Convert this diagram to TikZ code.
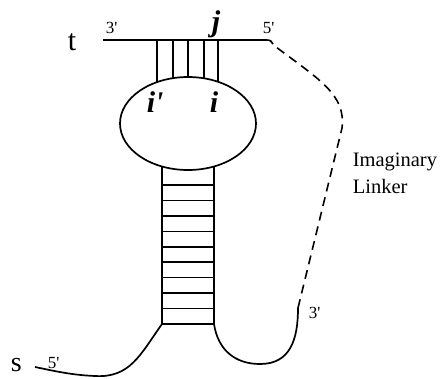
\documentclass[tikz,border=0pt]{standalone}
\usepackage{fontspec}
\setmainfont{Liberation Serif}
\usetikzlibrary{shapes.geometric}
\begin{document}
\begin{tikzpicture}[x=1pt,y=-1pt,line width=1.6pt,
  strand/.style={line width=1.7pt},
  bond/.style={line width=1.5pt},
  linker/.style={line width=1.6pt,dash pattern=on 9pt off 6pt},
  biglabel/.style={inner sep=0pt,anchor=base west,font=\fontsize{30}{30}\selectfont},
  endlabel/.style={inner sep=0pt,anchor=base west,font=\fontsize{17}{17}\selectfont},
  idxlabel/.style={inner sep=0pt,anchor=base west,font=\fontsize{30}{30}\selectfont\bfseries\itshape},
  notelabel/.style={inner sep=0pt,anchor=base west,font=\fontsize{20.5}{20.5}\selectfont}]
\useasboundingbox (0,0) rectangle (443,378);
% loop
\node[draw,ellipse,line width=1.7pt,minimum width=136pt,minimum height=93pt,inner sep=0pt] (loop) at (188,123.5) {};
% t strand
\coordinate (t3) at (103,40);
\coordinate (t5) at (273,44);
\draw[strand] (t3) -- (266,40) .. controls (270,40) and (272,41) .. (t5);
% bonds between t and loop
\foreach \x/\y in {157/82.1,173/78.1,188/77,204/78.3,218/81.8}
  \draw[bond] (\x,40) -- (\x,\y);
% stem
\coordinate (sl) at (162,324);
\coordinate (sr) at (214,324);
\draw[strand] (162,166.5) -- (sl);
\draw[strand] (214,166.5) -- (sr);
\foreach \k in {0,...,9}
  \draw[bond] (162,185+\k*15.44) -- (214,185+\k*15.44);
% s 5' tail
\coordinate (s5) at (35,367);
\draw[strand] (sl) .. controls (140,355) and (130,378) .. (95,376) .. controls (70,375) and (50,370) .. (s5);
% 3' tail
\coordinate (s3) at (298,308);
\draw[strand] (sr) .. controls (218,350) and (235,364) .. (260,364) .. controls (290,364) and (298,340) .. (s3);
% imaginary linker
\coordinate (lk) at (342,128);
\draw[linker] (s3) -- (lk) .. controls (346,95) and (320,80) .. (276,47);
% labels
\node[biglabel] (tl) at (67,50) {t};
\node[biglabel,font=\fontsize{28}{28}\selectfont] (sl2) at (10,371.5) {s};
\node[endlabel] (t3l) at (105,33) {3\textquotesingle};
\node[endlabel] (t5l) at (262,33) {5\textquotesingle};
\node[endlabel] (s5l) at (47,368) {5\textquotesingle};
\node[endlabel] (s3l) at (308,318) {3\textquotesingle};
\node[idxlabel] (jl) at (211,31) {j};
\node[idxlabel] (ipl) at (146,112) {i\textquotesingle};
\node[idxlabel] (il) at (209,112) {i};
\node[notelabel] (im) at (352,166) {Imaginary};
\node[notelabel] (lkl) at (352,193) {Linker};
\end{tikzpicture}
\end{document}
